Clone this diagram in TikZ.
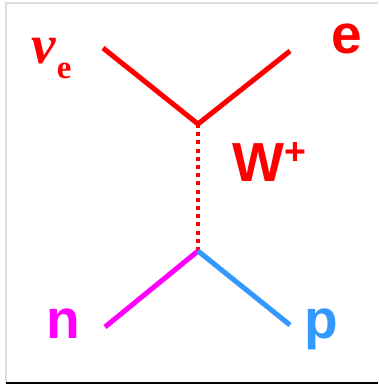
\documentclass[tikz,border=0pt]{standalone}
\usepackage{fontspec}
\setmainfont{Liberation Sans}
\newfontfamily\greekfont{Liberation Serif}
\usetikzlibrary{positioning}
\definecolor{wred}{HTML}{FF0000}
\definecolor{nmag}{HTML}{FF00FF}
\definecolor{pblue}{HTML}{3399FF}
\definecolor{frame}{HTML}{DDDDDD}
\definecolor{shade}{HTML}{8A8A8A}
\tikzset{
  leg/.style={line width=4.3pt,line cap=butt},
  boson/.style={line width=3.4pt,dash pattern=on 3.4pt off 3.6pt,color=wred},
  lbl/.style={font=\fontsize{47}{50}\selectfont\bfseries,inner sep=0pt,anchor=base},
}

\begin{document}
\begin{tikzpicture}[x=0.03cm,y=-0.03cm]
    \useasboundingbox (0,0) rectangle (378,386);
    \fill[white] (6,3) rectangle (378,383);
    \draw[frame,line width=0.9pt] (6,383) -- (6,3) -- (378,3);
    \draw[shade,line width=1.5pt] (6,383) -- (378,383);
    % vertices and free ends
    \coordinate (upv) at (198,124);
    \coordinate (lov) at (198,251);
    \coordinate (nuend) at (103,48);
    \coordinate (eend) at (290,51);
    \coordinate (nend) at (105,327);
    \coordinate (pend) at (290,325);
    \draw[leg,wred] (nuend) -- (upv) -- (eend);
    \draw[boson] (upv) -- (lov);
    \draw[leg,nmag] (nend) -- (lov);
    \draw[leg,pblue] (lov) -- (pend);
    % labels
    \node[lbl,anchor=base west,text=wred] (nulbl) at (31,63)
      {\greekfont\itshape ν\hspace{1pt}\raisebox{-13.6pt}{\fontsize{28}{30}\selectfont\upshape e}};
    \node[lbl,text=wred] (elbl) at (347,53) {e};
    \node[lbl,anchor=base west,text=wred] (wlbl) at (232,181)
      {W\hspace{0.5pt}\raisebox{13.8pt}{\fontsize{32}{32}\selectfont +}};
    \node[lbl,text=nmag] (nlbl) at (63.5,338) {n};
    \node[lbl,text=pblue] (plbl) at (321,338) {p};
\end{tikzpicture}
\end{document}
